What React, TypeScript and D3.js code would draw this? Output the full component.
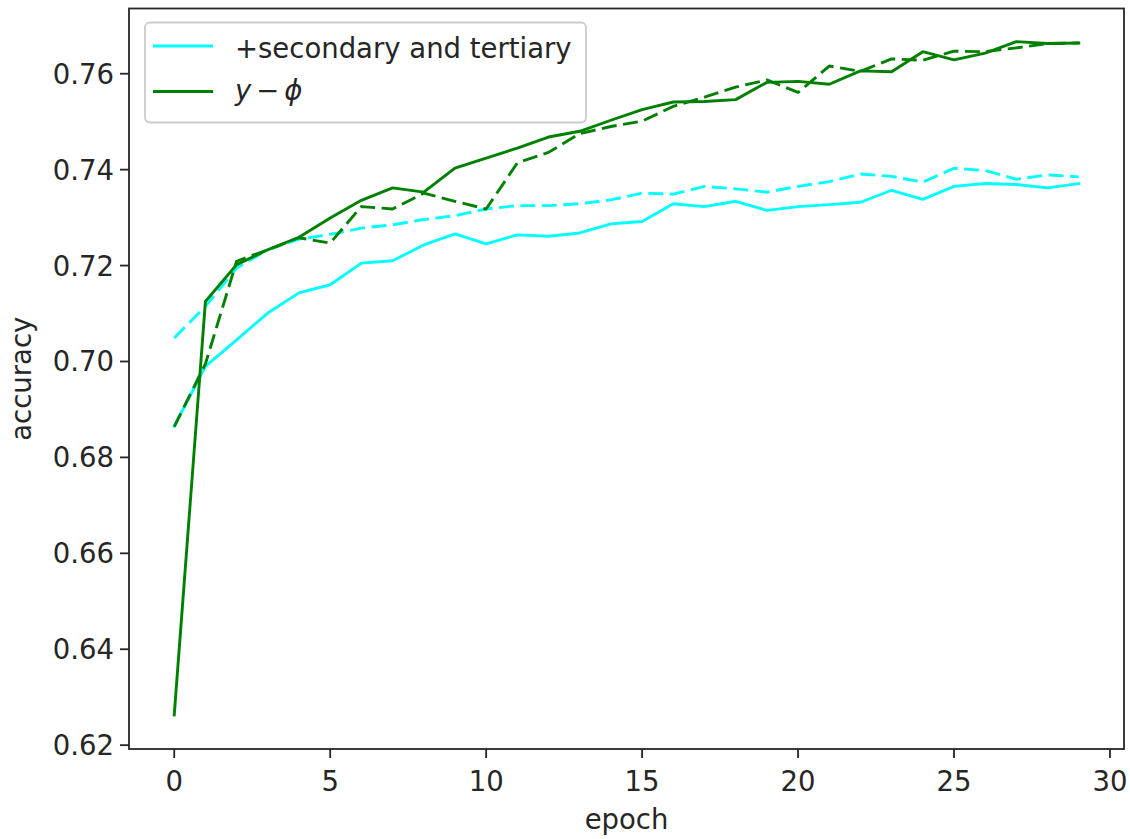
import React from 'react';
import * as d3 from 'd3';

// epochs on the x axis
const epochs = [0, 1, 2, 3, 4, 5, 6, 7, 8, 9, 10, 11, 12, 13, 14, 15, 16, 17, 18, 19, 20, 21, 22, 23, 24, 25, 26, 27, 28, 29];

// +secondary and tertiary (cyan)
const secSolid = [0.6865, 0.699, 0.7045, 0.7101, 0.7143, 0.716, 0.7205, 0.721, 0.7243, 0.7266, 0.7245, 0.7264, 0.7261, 0.7268, 0.7287, 0.7292, 0.7329, 0.7323, 0.7334, 0.7315, 0.7323, 0.7327, 0.7332, 0.7357, 0.7338, 0.7365, 0.7371, 0.7369, 0.7362, 0.7371];
const secDashed = [0.7049, 0.7115, 0.7195, 0.7233, 0.7255, 0.7265, 0.7278, 0.7285, 0.7296, 0.7304, 0.7318, 0.7325, 0.7325, 0.7329, 0.7337, 0.7351, 0.7349, 0.7365, 0.736, 0.7353, 0.7365, 0.7375, 0.7391, 0.7386, 0.7374, 0.7403, 0.7398, 0.738, 0.7389, 0.7385];

// y - phi (green)
const phiSolid = [0.6263, 0.7125, 0.7202, 0.7233, 0.7259, 0.7299, 0.7336, 0.7362, 0.7353, 0.7403, 0.7424, 0.7445, 0.7468, 0.748, 0.7503, 0.7525, 0.7541, 0.7542, 0.7546, 0.7582, 0.7584, 0.7578, 0.7606, 0.7604, 0.7646, 0.7629, 0.7643, 0.7667, 0.7663, 0.7664];
const phiDashed = [0.6864, 0.6995, 0.7209, 0.7233, 0.7258, 0.7247, 0.7323, 0.7318, 0.7351, 0.7334, 0.7318, 0.7414, 0.7436, 0.7475, 0.749, 0.7501, 0.7532, 0.7551, 0.7572, 0.7587, 0.7561, 0.7616, 0.7605, 0.7631, 0.7628, 0.7647, 0.7646, 0.7654, 0.7663, 0.7664];

const xTicks = [0, 5, 10, 15, 20, 25, 30];
const yTicks = [0.62, 0.64, 0.66, 0.68, 0.7, 0.72, 0.74, 0.76];

const width = 1130;
const height = 839;
const margin = { top: 8.5, right: 6, bottom: 90, left: 129 };
const font = '"DejaVu Sans", sans-serif';
const fs = 27.5;
const ink = '#262626';

const App = () => {
  const x = d3.scaleLinear().domain([-1.45, 30.45]).range([margin.left, width - margin.right]);
  const y = d3.scaleLinear().domain([0.6192, 0.7736]).range([height - margin.bottom, margin.top]);

  const line = d3
    .line<number>()
    .x((_, i) => x(epochs[i]))
    .y(d => y(d));

  const series = [
    { values: secSolid, color: '#00ffff', dash: null },
    { values: secDashed, color: '#00ffff', dash: '15 6.5' },
    { values: phiSolid, color: '#008000', dash: null },
    { values: phiDashed, color: '#008000', dash: '15 6.5' },
  ];

  const x0 = margin.left;
  const x1 = width - margin.right;
  const y0 = height - margin.bottom;
  const y1 = margin.top;

  return (
    <svg
      width={width}
      height={height}
      style={{ position: 'absolute', left: 0, top: 0, background: '#fff' }}
      fontFamily={font}
    >
      <defs>
        <clipPath id="plot">
          <rect x={x0} y={y1} width={x1 - x0} height={y0 - y1} />
        </clipPath>
      </defs>

      <g clipPath="url(#plot)">
        {series.map((s, i) => (
          <path
            key={i}
            d={line(s.values) || ''}
            fill="none"
            stroke={s.color}
            strokeWidth={2.9}
            strokeDasharray={s.dash || undefined}
            strokeLinejoin="round"
            strokeLinecap={s.dash ? 'butt' : 'square'}
          />
        ))}
      </g>

      {/* frame */}
      <rect x={x0} y={y1} width={x1 - x0} height={y0 - y1} fill="none" stroke={ink} strokeWidth={1.8} />

      {/* x axis */}
      {xTicks.map(t => (
        <g key={t} transform={`translate(${x(t)},${y0})`}>
          <line y2={9} stroke={ink} strokeWidth={1.8} />
          <text y={42} textAnchor="middle" fontSize={fs} fill={ink}>{t}</text>
        </g>
      ))}
      <text x={(x0 + x1) / 2} y={829} textAnchor="middle" fontSize={fs} fill={ink}>epoch</text>

      {/* y axis */}
      {yTicks.map(t => (
        <g key={t} transform={`translate(${x0},${y(t)})`}>
          <line x2={-9} stroke={ink} strokeWidth={1.8} />
          <text x={-15} y={10} textAnchor="end" fontSize={fs} fill={ink}>{t.toFixed(2)}</text>
        </g>
      ))}
      <text
        transform={`translate(31,${(y0 + y1) / 2}) rotate(-90)`}
        textAnchor="middle"
        fontSize={fs}
        fill={ink}
      >
        accuracy
      </text>

      {/* legend */}
      <g>
        <rect x={145} y={22.5} width={441} height={100} rx={5} fill="#fff" fillOpacity={0.8} stroke="#cccccc" strokeWidth={1.8} />
        <line x1={153} x2={213} y1={46} y2={46} stroke="#00ffff" strokeWidth={2.9} />
        <text x={235} y={58} fontSize={fs} fill={ink}>+secondary and tertiary</text>
        <line x1={153} x2={213} y1={91.5} y2={91.5} stroke="#008000" strokeWidth={2.9} />
        <text x={235} y={100} fontSize={fs} fill={ink}>
          <tspan fontStyle="italic">y</tspan>
          <tspan dx={5}>−</tspan>
          <tspan dx={5} fontStyle="italic">ϕ</tspan>
        </text>
      </g>
    </svg>
  );
};

export default App;
